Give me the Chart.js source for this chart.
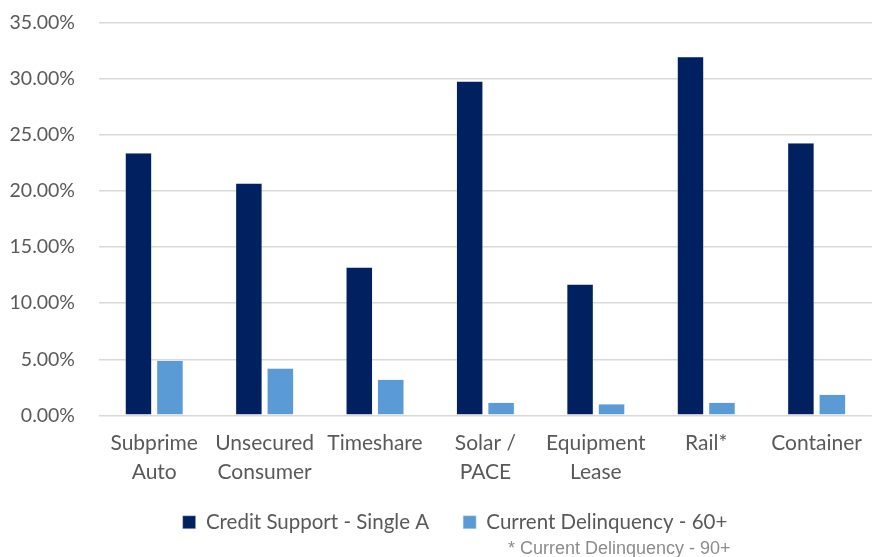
<!DOCTYPE html>
<html>
<head>
<meta charset="utf-8">
<script src="https://cdn.jsdelivr.net/npm/chart.js@4"></script>
<style>
  html, body { margin: 0; padding: 0; background: #ffffff; }
  #wrap { position: relative; width: 876px; height: 557px; overflow: hidden; }
  #note { position: absolute; left: 508px; top: 538px; line-height: 20px; font-family: "Liberation Sans", Arial, sans-serif; font-size: 18px; color: #8c8c8c; white-space: nowrap; }
</style>
</head>
<body>
<div id="wrap">
  <canvas id="c" width="876" height="557"></canvas>
  <div id="note">* Current Delinquency - 90+</div>
</div>
<script>
const categories = [["Subprime", "Auto"], ["Unsecured", "Consumer"], ["Timeshare"], ["Solar /", "PACE"], ["Equipment", "Lease"], ["Rail*"], ["Container"]];
const creditSupport = [23.4, 20.7, 13.2, 29.8, 11.7, 32.0, 24.3];
const delinquency = [4.9, 4.2, 3.2, 1.15, 1.0, 1.15, 1.85];
const seriesNames = ["Credit Support - Single A", "Current Delinquency - 60+"];

const FONT = "Lato, 'Open Sans', sans-serif";
const TEXT = "#595959";

// nudge the legend row (Excel places it slightly right of centre, closer to the axis labels)
const legendNudge = {
  id: 'legendNudge',
  afterLayout(chart) {
    const lg = chart.legend;
    if (!lg) return;
    lg.top -= 22; lg.bottom -= 22;
    lg.left += 17; lg.right += 17;
  }
};

new Chart(document.getElementById('c'), {
  type: 'bar',
  data: {
    labels: categories,
    datasets: [
      { label: seriesNames[0], data: creditSupport, backgroundColor: '#002060', borderColor: '#c9d3e6', borderWidth: 0.5, barPercentage: 0.84, categoryPercentage: 0.57 },
      { label: seriesNames[1], data: delinquency, backgroundColor: '#5b9bd5', borderColor: '#c9dcf0', borderWidth: 0.5, barPercentage: 0.84, categoryPercentage: 0.57 }
    ]
  },
  plugins: [legendNudge],
  options: {
    responsive: false,
    animation: false,
    devicePixelRatio: 1,
    layout: { padding: { top: 23, right: 0, bottom: 0, left: 0 } },
    plugins: {
      legend: {
        position: 'bottom',
        maxHeight: 57,
        labels: { font: { family: FONT, size: 20.5 }, color: TEXT, boxWidth: 13, boxHeight: 13, padding: 34 }
      },
      tooltip: { enabled: false }
    },
    scales: {
      x: {
        grid: { display: false, drawTicks: false },
        border: { display: false },
        ticks: { font: { family: FONT, size: 21, lineHeight: 1.35 }, color: TEXT, padding: 14, maxRotation: 0, autoSkip: false }
      },
      y: {
        min: 0, max: 35,
        grid: { color: '#d9d9d9', lineWidth: 1.5, drawTicks: false },
        border: { display: false },
        ticks: { stepSize: 5, font: { family: FONT, size: 19.5 }, color: TEXT, padding: 24, callback: v => v.toFixed(2) + '%' },
        afterFit: s => { s.width = 99; s.paddingTop = 0; s.paddingBottom = 0; }
      }
    }
  }
});
</script>
</body>
</html>
